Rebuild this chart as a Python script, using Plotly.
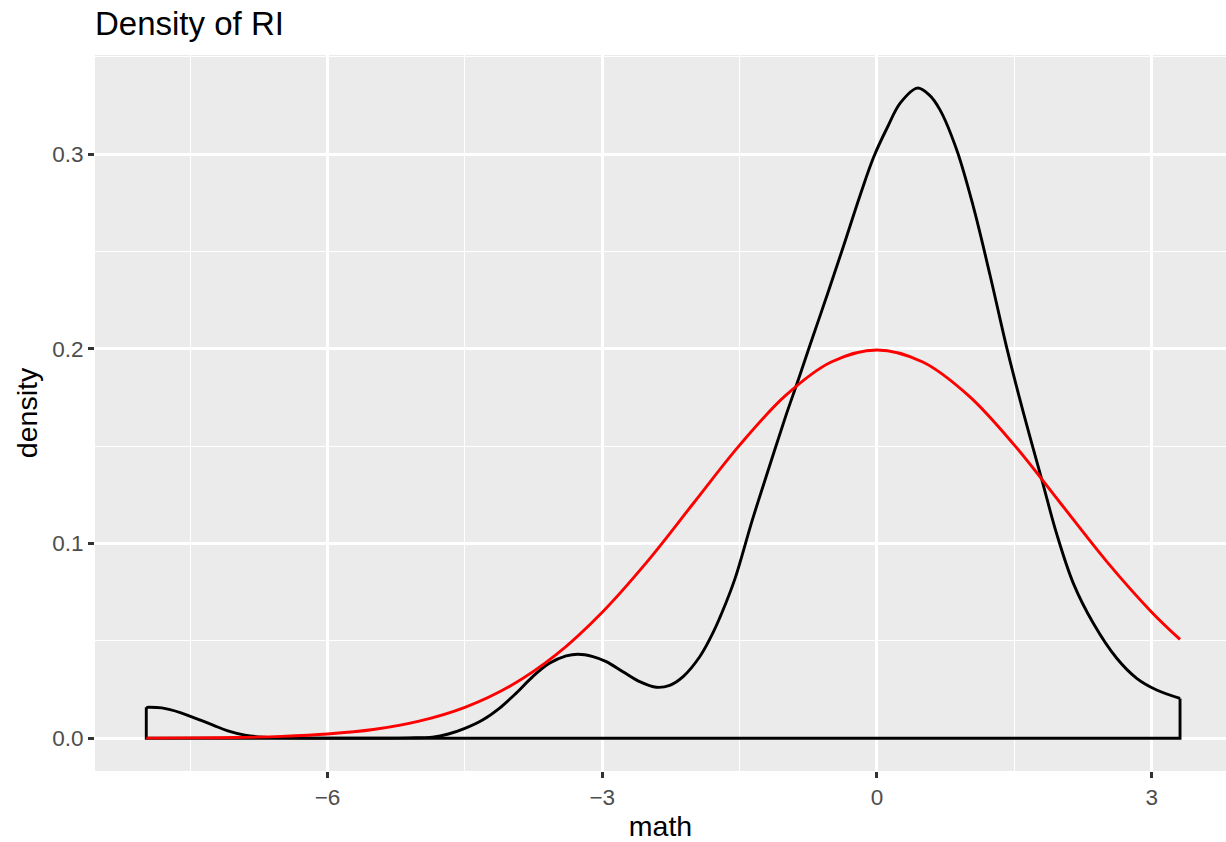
import plotly.graph_objects as go

# Kernel density of RI (black)
dens_x = [-7.979, -7.811, -7.60, -7.448, -7.25, -7.088, -6.90, -6.70, -6.40, -6.0,
          -5.5, -5.1, -4.854, -4.68, -4.5, -4.307, -4.124, -3.942, -3.759, -3.577,
          -3.394, -3.266, -3.102, -2.956, -2.774, -2.591, -2.409, -2.263, -2.117, -1.934,
          -1.788, -1.65, -1.544, -1.360, -1.176, -0.993, -0.864, -0.735, -0.551, -0.368,
          -0.184, -0.037, 0.110, 0.257, 0.441, 0.570, 0.688, 0.870, 1.052, 1.234,
          1.420, 1.60, 1.799, 1.962, 2.144, 2.362, 2.618, 2.836, 3.054, 3.309]
dens_y = [0.0159, 0.0156, 0.0131, 0.0104, 0.0068, 0.0038, 0.0016, 0.0006, 0.0002, 0.0001,
          0.0001, 0.0002, 0.0006, 0.0022, 0.0051, 0.0094, 0.0154, 0.0231, 0.0317, 0.0385,
          0.0423, 0.0432, 0.0420, 0.0394, 0.0342, 0.0291, 0.0262, 0.0272, 0.0317, 0.0420,
          0.0545, 0.0695, 0.0829, 0.1123, 0.1395, 0.1660, 0.1835, 0.2015, 0.2268, 0.2525,
          0.2790, 0.2985, 0.3135, 0.3265, 0.3340, 0.3305, 0.3228, 0.3023, 0.2731, 0.2380,
          0.2000, 0.1670, 0.1330, 0.1050, 0.0796, 0.0591, 0.0411, 0.0308, 0.0248, 0.0205]

# Reference normal curve (red)
norm_x = [-7.979, -7.5, -7.0, -6.5, -6.0, -5.5, -5.0, -4.5, -4.0, -3.5, -3.0, -2.5,
          -2.0, -1.5, -1.0, -0.5, 0.0, 0.5, 1.0, 1.5, 2.0, 2.5, 3.0, 3.309]
norm_y = [0.0001, 0.0002, 0.0004, 0.0010, 0.0022, 0.0045, 0.0088, 0.0159, 0.0270, 0.0431,
          0.0648, 0.0913, 0.1210, 0.1506, 0.1760, 0.1933, 0.1995, 0.1933, 0.1760, 0.1506,
          0.1210, 0.0913, 0.0648, 0.0508]

x_ticks = [-6, -3, 0, 3]
x_ticktext = ["\u22126", "\u22123", "0", "3"]
y_ticks = [0.0, 0.1, 0.2, 0.3]
y_ticktext = ["0.0", "0.1", "0.2", "0.3"]

FONT = "Liberation Sans, Arial, sans-serif"

fig = go.Figure()

# outline of density polygon (verticals and baseline)
fig.add_trace(go.Scatter(
    x=[dens_x[-1], dens_x[-1], dens_x[0], dens_x[0]],
    y=[dens_y[-1], 0, 0, dens_y[0]],
    mode="lines", line=dict(color="black", width=2.9), showlegend=False, hoverinfo="skip"))

fig.add_trace(go.Scatter(
    x=dens_x, y=dens_y, mode="lines",
    line=dict(color="black", width=2.9, shape="spline", smoothing=1.0),
    showlegend=False))

fig.add_trace(go.Scatter(
    x=norm_x, y=norm_y, mode="lines",
    line=dict(color="red", width=2.9, shape="spline", smoothing=1.0),
    showlegend=False))

axis_common = dict(
    showline=False, zeroline=False,
    showgrid=True, gridcolor="white", gridwidth=2.8,
    ticks="outside", ticklen=6, tickwidth=2.6, tickcolor="#333333",
    tickfont=dict(family=FONT, size=22.5, color="#4D4D4D"),
    title_font=dict(family=FONT, size=28.5, color="black"),
)

fig.update_xaxes(
    **axis_common,
    range=[-8.539, 3.811],
    tickvals=x_ticks, ticktext=x_ticktext,
    minor=dict(dtick=3, tick0=-7.5, showgrid=True, gridcolor="white", gridwidth=1.4, ticks=""),
    title_text="math", title_standoff=8,
)
fig.update_yaxes(
    **axis_common,
    range=[-0.0168, 0.351],
    tickvals=y_ticks, ticktext=y_ticktext,
    minor=dict(dtick=0.1, tick0=0.05, showgrid=True, gridcolor="white", gridwidth=1.4, ticks=""),
    title_text="density", title_standoff=6,
)

fig.update_layout(
    width=1226, height=842,
    margin=dict(l=95, r=0, t=55, b=71),
    paper_bgcolor="white", plot_bgcolor="#EBEBEB",
    title=dict(text="Density of RI", x=95/1226, xanchor="left", y=1 - 23/842, yanchor="middle",
               font=dict(family=FONT, size=33, color="black")),
    font=dict(family=FONT),
)

fig.write_html("out.html")
